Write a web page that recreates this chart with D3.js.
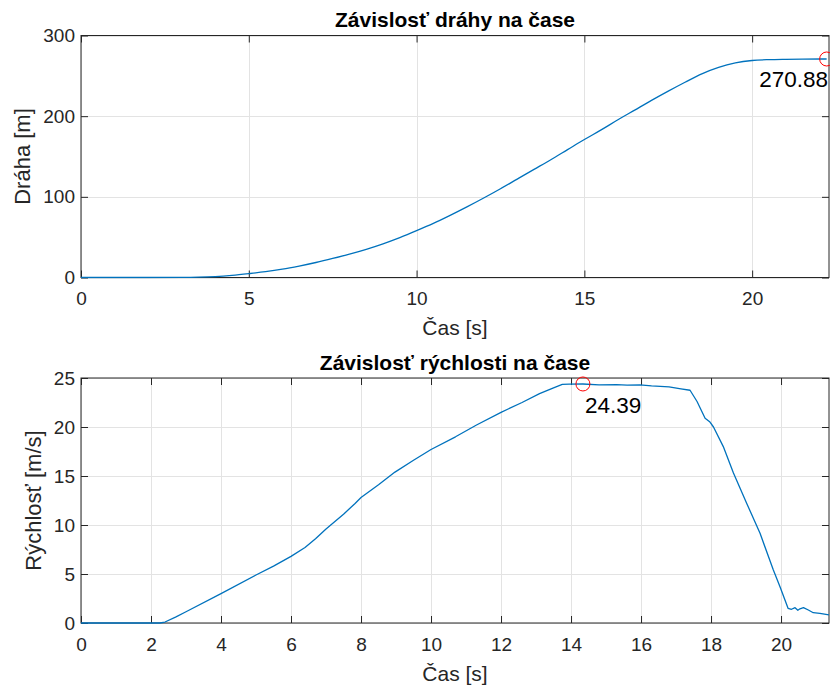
<!DOCTYPE html>
<html>
<head>
<meta charset="utf-8">
<script src="https://cdn.jsdelivr.net/npm/d3@7/dist/d3.min.js"></script>
<style>
  html, body { margin: 0; padding: 0; background: #ffffff; }
  svg { display: block; font-family: "Liberation Sans", Arial, Helvetica, sans-serif; }
</style>
</head>
<body>
<svg id="chart" width="830" height="689"></svg>
<script>
// ---------- DATA ----------
// Distance vs time (top plot)
const distTime = [0, 2, 3, 3.5, 4, 4.5, 5, 5.5, 6, 6.5, 7, 7.5, 8, 8.5, 9, 9.5, 10, 10.5, 11, 11.5, 12, 12.5, 13, 13.5, 14, 14.5, 15, 15.5, 16, 16.5, 17, 17.5, 18, 18.5, 19, 19.5, 20, 20.5, 21, 21.5, 22.22];
const distValue = [0, 0, 0.1, 0.4, 1.2, 2.7, 4.8, 7.2, 10.3, 14.2, 18.6, 23.6, 29, 35, 41.8, 49.5, 58, 67, 77, 87.5, 98.5, 110, 122, 134, 146, 158.5, 171, 183, 195.5, 207.5, 219.5, 231, 242, 252.5, 260.5, 266, 269, 270.1, 270.5, 270.7, 270.88];
const distMaxLabel = "270.88";

// Velocity vs time (bottom plot)
const velTime = [0, 2.25, 2.4, 2.7, 3, 4, 5, 5.5, 6, 6.4, 6.7, 7, 7.5, 7.83, 8, 8.5, 8.97, 9.5, 10, 10.7, 11.3, 12, 12.6, 13.1, 13.5, 13.75, 13.95, 14.34, 14.8, 15.3, 15.6, 15.97, 16.3, 16.8, 17.14, 17.4, 17.6, 17.83, 17.97, 18.07, 18.35, 18.64, 19.02, 19.4, 19.78, 19.97, 20.2, 20.3, 20.4, 20.48, 20.54, 20.64, 20.78, 20.92, 21.11, 21.37];
const velValue = [0, 0, 0.1, 0.6, 1.15, 3.0, 4.9, 5.8, 6.8, 7.7, 8.6, 9.6, 11.1, 12.2, 12.8, 14.1, 15.4, 16.6, 17.7, 19.0, 20.2, 21.5, 22.5, 23.4, 24.0, 24.35, 24.37, 24.39, 24.3, 24.33, 24.28, 24.3, 24.2, 24.1, 23.9, 23.75, 22.6, 20.9, 20.5, 20.0, 18.0, 15.3, 12.2, 9.15, 5.4, 3.7, 1.5, 1.4, 1.56, 1.3, 1.45, 1.56, 1.33, 1.05, 0.99, 0.82];
const velMaxTime = 14.34;
const velMaxValue = 24.39;
const velMaxLabel = "24.39";

// Ticks & texts
const topXTicks = [0, 5, 10, 15, 20];
const topYTicks = [0, 100, 200, 300];
const botXTicks = [0, 2, 4, 6, 8, 10, 12, 14, 16, 18, 20];
const botYTicks = [0, 5, 10, 15, 20, 25];
const topTitle = "Závislosť dráhy na čase";
const botTitle = "Závislosť rýchlosti na čase";
const xLabelText = "Čas [s]";
const topYLabel = "Dráha [m]";
const botYLabel = "Rýchlosť [m/s]";

// ---------- DRAWING ----------
const svg = d3.select("#chart");
const lineColor = "#0072BD";
const axisColor = "#262626";
const gridColor = "#e3e3e3";
const tickFont = 19;

function panel(opts) {
  const { x, y, xTicks, yTicks, title, yLabel, yLabelX, clipId } = opts;
  const [L, R] = x.range();
  const [B, T] = y.range();
  const g = svg.append("g");

  // grid
  g.append("g").selectAll("line").data(xTicks).join("line")
    .attr("x1", d => Math.round(x(d)) + 0.5).attr("x2", d => Math.round(x(d)) + 0.5)
    .attr("y1", T).attr("y2", B).attr("stroke", gridColor).attr("stroke-width", 1);
  g.append("g").selectAll("line").data(yTicks).join("line")
    .attr("y1", d => Math.round(y(d)) + 0.5).attr("y2", d => Math.round(y(d)) + 0.5)
    .attr("x1", L).attr("x2", R).attr("stroke", gridColor).attr("stroke-width", 1);

  // clip
  svg.append("clipPath").attr("id", clipId).append("rect")
    .attr("x", L).attr("y", T - 1).attr("width", R - L).attr("height", B - T + 2);

  // axes
  const ax = d3.axisBottom(x).tickValues(xTicks).tickSizeInner(-7).tickSizeOuter(0).tickPadding(14.5).tickFormat(d3.format("d"));
  const axG = g.append("g").attr("transform", `translate(0,${B})`).call(ax);
  const axT = g.append("g").attr("transform", `translate(0,${T})`).call(d3.axisTop(x).tickValues(xTicks).tickSizeInner(-7).tickSizeOuter(0).tickFormat(""));
  const ay = d3.axisLeft(y).tickValues(yTicks).tickSizeInner(-7).tickSizeOuter(0).tickPadding(6).tickFormat(d3.format("d"));
  const ayG = g.append("g").attr("transform", `translate(${L},0)`).call(ay);
  const ayR = g.append("g").attr("transform", `translate(${R},0)`).call(d3.axisRight(y).tickValues(yTicks).tickSizeInner(-7).tickSizeOuter(0).tickFormat(""));
  [axG, axT, ayG, ayR].forEach(a => {
    a.select(".domain").remove();
    a.selectAll("line").attr("stroke", axisColor).attr("stroke-width", 1);
    a.selectAll("text").attr("fill", axisColor).attr("font-size", tickFont)
      .attr("font-family", "Liberation Sans, Arial, sans-serif");
  });
  ayG.selectAll("text").attr("x", -6);

  // box
  g.append("rect").attr("x", L).attr("y", T).attr("width", R - L).attr("height", B - T)
    .attr("fill", "none").attr("stroke", axisColor).attr("stroke-width", 1);

  // title
  g.append("text").attr("x", (L + R) / 2).attr("y", T - 8.5).attr("text-anchor", "middle")
    .attr("font-weight", "bold").attr("font-size", 21).attr("fill", "#000").text(title);
  // x label
  g.append("text").attr("x", (L + R) / 2).attr("y", B + 57.5).attr("text-anchor", "middle")
    .attr("font-size", 21).attr("fill", axisColor).text(xLabelText);
  // y label
  g.append("text").attr("transform", `translate(${yLabelX},${(T + B) / 2}) rotate(-90)`)
    .attr("text-anchor", "middle").attr("font-size", 22).attr("fill", axisColor).text(yLabel);
  return g;
}

// Top panel
const xTop = d3.scaleLinear().domain([0, 22.29]).range([81, 829]);
const yTop = d3.scaleLinear().domain([0, 300]).range([277.5, 35.5]);
const gTop = panel({ x: xTop, y: yTop, xTicks: topXTicks, yTicks: topYTicks, title: topTitle, yLabel: topYLabel, yLabelX: 30, clipId: "clipTop" });
const distData = distTime.map((t, i) => [t, distValue[i]]);
gTop.append("path").datum(distData)
  .attr("clip-path", "url(#clipTop)")
  .attr("fill", "none").attr("stroke", lineColor).attr("stroke-width", 1.3)
  .attr("d", d3.line().x(d => xTop(d[0])).y(d => yTop(d[1])).curve(d3.curveMonotoneX));
const lastT = distTime[distTime.length - 1], lastD = distValue[distValue.length - 1];
gTop.append("circle").attr("cx", xTop(lastT)).attr("cy", yTop(lastD)).attr("r", 7)
  .attr("fill", "none").attr("stroke", "#ff0000").attr("stroke-width", 1);
gTop.append("text").attr("x", xTop(lastT) + 1.5).attr("y", yTop(lastD) + 28.5)
  .attr("text-anchor", "end").attr("font-size", 22.5).attr("fill", "#000").text(distMaxLabel);

// Bottom panel
const xBot = d3.scaleLinear().domain([0, 21.37]).range([81, 829]);
const yBot = d3.scaleLinear().domain([0, 25]).range([623, 378]);
const gBot = panel({ x: xBot, y: yBot, xTicks: botXTicks, yTicks: botYTicks, title: botTitle, yLabel: botYLabel, yLabelX: 41, clipId: "clipBot" });
const velData = velTime.map((t, i) => [t, velValue[i]]);
gBot.append("path").datum(velData)
  .attr("clip-path", "url(#clipBot)")
  .attr("fill", "none").attr("stroke", lineColor).attr("stroke-width", 1.3)
  .attr("stroke-linejoin", "round")
  .attr("d", d3.line().x(d => xBot(d[0])).y(d => yBot(d[1])));
gBot.append("circle").attr("cx", xBot(velMaxTime)).attr("cy", yBot(velMaxValue)).attr("r", 7)
  .attr("fill", "none").attr("stroke", "#ff0000").attr("stroke-width", 1);
gBot.append("text").attr("x", xBot(velMaxTime) + 2).attr("y", yBot(velMaxValue) + 29)
  .attr("text-anchor", "start").attr("font-size", 22.5).attr("fill", "#000").text(velMaxLabel);
</script>
</body>
</html>
